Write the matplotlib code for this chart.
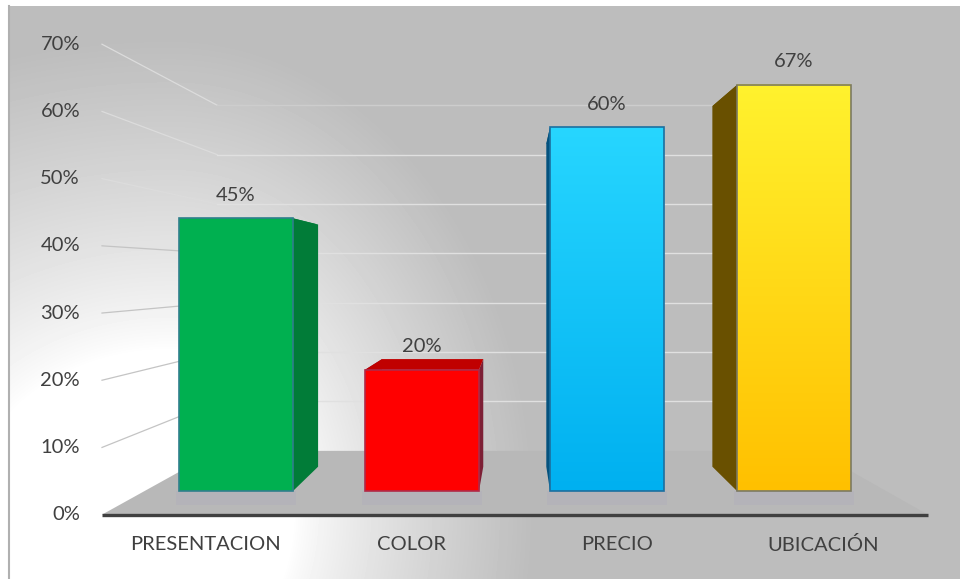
import matplotlib
matplotlib.use("Agg")
import matplotlib.pyplot as plt
import numpy as np
from matplotlib.patches import Polygon

plt.rcParams['font.family'] = ['Lato', 'DejaVu Sans']

categories = ['PRESENTACION', 'COLOR', 'PRECIO', 'UBICACIÓN']
values = [45, 20, 60, 67]
tick_values = [0, 10, 20, 30, 40, 50, 60, 70]

bar_left = [179, 365, 550, 737]
bar_width = 114
bar_edges = ['#2f7f8c', '#b02a48', '#1c6f9f', '#7c7a62']
side_colors = ['#017c38', '#7d1f35', '#04527e', '#695000']
top_colors = ['#017c38', '#c00000', '#04527e', '#695000']
text_color = '#404040'

# perspective of the box: everything shrinks towards this point
HORIZON = 35.8
VANISH_X = 517
FLOOR_FRONT = 1.109
BAR_REAR = 0.888
WALL = 0.815


def proj(x, v, k):
    return VANISH_X + (x - VANISH_X) * k, HORIZON + (v - HORIZON) * k


W, H = 960, 579
fig = plt.figure(figsize=(W / 100, H / 100), dpi=100, facecolor='white')

# panel background, light glow in the lower left
bg = fig.add_axes([8 / W, 0, (W - 8) / W, 573 / H])
yy, xx = np.mgrid[6:579, 8:960]
dx = xx - 170.0
dx = np.where(dx > 0, dx * 1.3, dx * 0.8)
dist = np.hypot(dx, yy - 510)
t = np.clip((dist - 160) / (470 - 160), 0, 1) ** 0.8
shade = 255 - t * (255 - 189)
bg.imshow(shade, cmap='gray', vmin=0, vmax=255, aspect='auto', interpolation='bilinear')
bg.axis('off')

# main axes: x in pixels, y in percent on the plane of the bar fronts
ax = fig.add_axes([0, 0, 1, 1])
ax.patch.set_alpha(0)
ax.set_xlim(0, W)
ax.set_ylim((491 - 579) / 6.06, 491 / 6.06)
ax.axis('off')

ax.plot([8.5, 8.5], [(491 - 6) / 6.06, (491 - 579) / 6.06], color='#b0b0b0', lw=1.5, zorder=1)

# floor, corners given by their screen x
front_l, front_r = 102, 928
back_l, back_r = 217, 815
front_y = proj(0, 0, FLOOR_FRONT)[1]
back_y = proj(0, 0, WALL)[1]
floor = [(front_l, front_y), (front_r, front_y), (back_r, back_y), (back_l, back_y)]
ax.add_patch(Polygon(floor, closed=True, facecolor='#b8b8b8', edgecolor='none', zorder=2))

# gridlines: along the left wall, then along the back wall
for v in tick_values[1:]:
    y_front = proj(0, v, FLOOR_FRONT)[1]
    y_back = proj(0, v, WALL)[1]
    wall_col = '#dcdcdc' if v >= 50 else '#c4c4c4'
    back_col = '#cdcdcd' if v == 70 else '#e0e0e0'
    ax.plot([front_l, back_l], [y_front, y_back], color=wall_col, lw=0.9, zorder=3)
    ax.plot([back_l, back_r], [y_back, y_back], color=back_col, lw=1, zorder=3)

# bluish reflection on the floor under each bar
ax.bar([b + bar_width / 2 for b in bar_left], [-2.3] * 4, width=bar_width + 6,
       color='#aeacbd', alpha=0.35, zorder=3)

# bars, rear faces first so the fronts cover them
for i, v in enumerate(values):
    l = bar_left[i]
    r = l + bar_width
    for x in (l, r):
        side = [proj(x, 0, 1), proj(x, v, 1), proj(x, v, BAR_REAR), proj(x, 0, BAR_REAR)]
        ax.add_patch(Polygon(side, closed=True, facecolor=side_colors[i], edgecolor='none', zorder=4))
    top = [proj(l, v, 1), proj(r, v, 1), proj(r, v, BAR_REAR), proj(l, v, BAR_REAR)]
    ax.add_patch(Polygon(top, closed=True, facecolor=top_colors[i], edgecolor='none', zorder=4))

solid = ['#00b050', '#ff0000', None, None]
grads = [None, None, ('#27d6ff', '#00b0f0'), ('#fff22e', '#ffc000')]
bars = ax.bar([b + bar_width / 2 for b in bar_left], values, width=bar_width, bottom=0,
              color=[c if c else 'none' for c in solid], edgecolor=bar_edges, linewidth=1.2, zorder=6)

for i, rect in enumerate(bars):
    if grads[i]:
        c0 = np.array(matplotlib.colors.to_rgb(grads[i][0]))
        c1 = np.array(matplotlib.colors.to_rgb(grads[i][1]))
        f = np.linspace(0, 1, 256)[:, None, None]
        img = c0[None, None, :] * (1 - f) + c1[None, None, :] * f
        ax.imshow(img, extent=(bar_left[i], bar_left[i] + bar_width, 0, values[i]),
                  aspect='auto', origin='upper', zorder=5)
ax.set_xlim(0, W)
ax.set_ylim((491 - 579) / 6.06, 491 / 6.06)

# baseline at the front of the floor
ax.plot([front_l, front_r], [front_y, front_y], color=text_color, lw=2.4,
        solid_capstyle='butt', zorder=7)

# tick labels sit on the front edge of the left wall
for v in tick_values:
    ax.text(80, proj(0, v, FLOOR_FRONT)[1], f'{v}%', ha='right', va='center',
            fontsize=14.5, color=text_color, zorder=8)

for i, name in enumerate(categories):
    ax.text([206, 411, 617, 823][i], (491 - 545) / 6.06, name, ha='center', va='center',
            fontsize=14.5, color=text_color, zorder=8)

for i, v in enumerate(values):
    ax.text(bar_left[i] + bar_width / 2, v + 3.8, f'{v}%', ha='center', va='center',
            fontsize=14.5, color=text_color, zorder=8)

fig.savefig('out.png', dpi=100)
